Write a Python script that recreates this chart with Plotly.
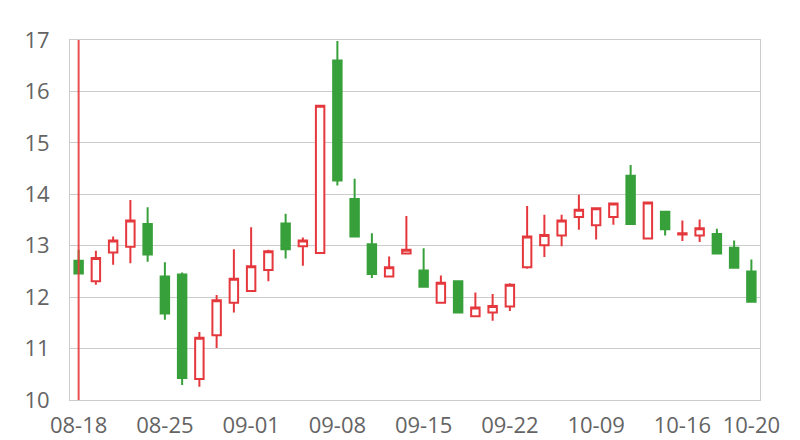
import plotly.graph_objects as go

dates = ["08-18", "08-19", "08-20", "08-21", "08-22",
         "08-25", "08-26", "08-27", "08-28", "08-29",
         "09-01", "09-02", "09-03", "09-04", "09-05",
         "09-08", "09-09", "09-10", "09-11", "09-12",
         "09-15", "09-16", "09-17", "09-18", "09-19",
         "09-22", "09-23", "09-24", "09-25", "09-26",
         "10-09", "10-10", "10-13", "10-14", "10-15",
         "10-16", "10-17", "10-18", "10-19", "10-20"]

opens = [12.71, 12.31, 12.87, 12.98, 13.42, 12.40, 12.44, 10.41, 11.26, 11.89,
         12.12, 12.53, 13.43, 12.99, 12.86, 16.60, 13.91, 13.03, 12.40, 12.85,
         12.52, 11.89, 12.31, 11.63, 11.70, 11.82, 12.58, 13.01, 13.20, 13.56,
         13.40, 13.56, 14.36, 13.14, 13.66, 13.22, 13.20, 13.23, 12.96, 12.50]
highs = [12.92, 12.90, 13.18, 13.89, 13.75, 12.68, 12.48, 11.32, 12.04, 12.93,
         13.36, 12.92, 13.62, 13.16, 15.72, 16.98, 14.30, 13.24, 12.79, 13.58,
         12.95, 12.42, 12.31, 12.09, 12.06, 12.27, 13.77, 13.60, 13.60, 13.99,
         13.73, 13.82, 14.57, 13.86, 13.66, 13.49, 13.51, 13.33, 13.10, 12.73]
lows = [12.44, 12.24, 12.63, 12.66, 12.69, 11.56, 10.29, 10.26, 11.01, 11.70,
        12.12, 12.31, 12.75, 12.61, 12.86, 14.17, 13.18, 12.37, 12.40, 12.85,
        12.20, 11.89, 11.70, 11.63, 11.54, 11.73, 12.55, 12.78, 12.99, 13.31,
        13.12, 13.41, 13.42, 13.14, 13.20, 13.09, 13.07, 12.83, 12.55, 11.89]
closes = [12.46, 12.76, 13.10, 13.49, 12.83, 11.68, 10.43, 11.21, 11.94, 12.36,
          12.60, 12.89, 12.93, 13.10, 15.72, 14.27, 13.18, 12.45, 12.58, 12.92,
          12.20, 12.28, 11.70, 11.80, 11.83, 12.24, 13.18, 13.21, 13.49, 13.70,
          13.73, 13.82, 13.42, 13.84, 13.32, 13.24, 13.34, 12.85, 12.57, 11.91]

# full-height spike drawn on the first session
spike_date = [dates[0], dates[0]]
spike_values = [0, 30]

tick_dates = ["08-18", "08-25", "09-01", "09-08", "09-15", "09-22", "10-09", "10-16", "10-20"]
y_ticks = [10, 11, 12, 13, 14, 15, 16, 17]

RED = "#e5383d"
GREEN = "#37a03a"

fig = go.Figure()
fig.add_trace(go.Candlestick(
    x=dates, open=opens, high=highs, low=lows, close=closes,
    increasing=dict(line=dict(color=RED, width=2), fillcolor="white"),
    decreasing=dict(line=dict(color=GREEN, width=2), fillcolor=GREEN),
    whiskerwidth=0, showlegend=False, hoverinfo="skip",
))
fig.add_trace(go.Scatter(
    x=spike_date, y=spike_values, mode="lines",
    line=dict(color="rgba(232,60,64,0.9)", width=2),
    showlegend=False, hoverinfo="skip",
))

tickfont = dict(family="Open Sans, Noto Sans, sans-serif", size=22, color="#646464")
fig.update_layout(
    width=792, height=432,
    margin=dict(l=62, r=40, t=32, b=40, autoexpand=False),
    paper_bgcolor="white", plot_bgcolor="white",
    boxgap=0.3,
    xaxis=dict(
        type="category", categoryorder="array", categoryarray=dates,
        range=[-0.5, len(dates) - 0.5],
        rangeslider=dict(visible=False), automargin=False,
        tickmode="array", tickvals=tick_dates, ticktext=tick_dates,
        showgrid=False, showline=True, linecolor="#cccccc", linewidth=1,
        mirror=True, ticks="", tickfont=tickfont, ticklabelstandoff=6,
        zeroline=False,
    ),
    yaxis=dict(
        range=[10, 17], tickmode="array", tickvals=y_ticks, automargin=False,
        showgrid=True, gridcolor="#cccccc", gridwidth=1,
        showline=True, linecolor="#cccccc", linewidth=1, mirror=True,
        ticks="", tickfont=tickfont, ticklabelstandoff=15, zeroline=False,
    ),
)

fig.write_html("out.html")
